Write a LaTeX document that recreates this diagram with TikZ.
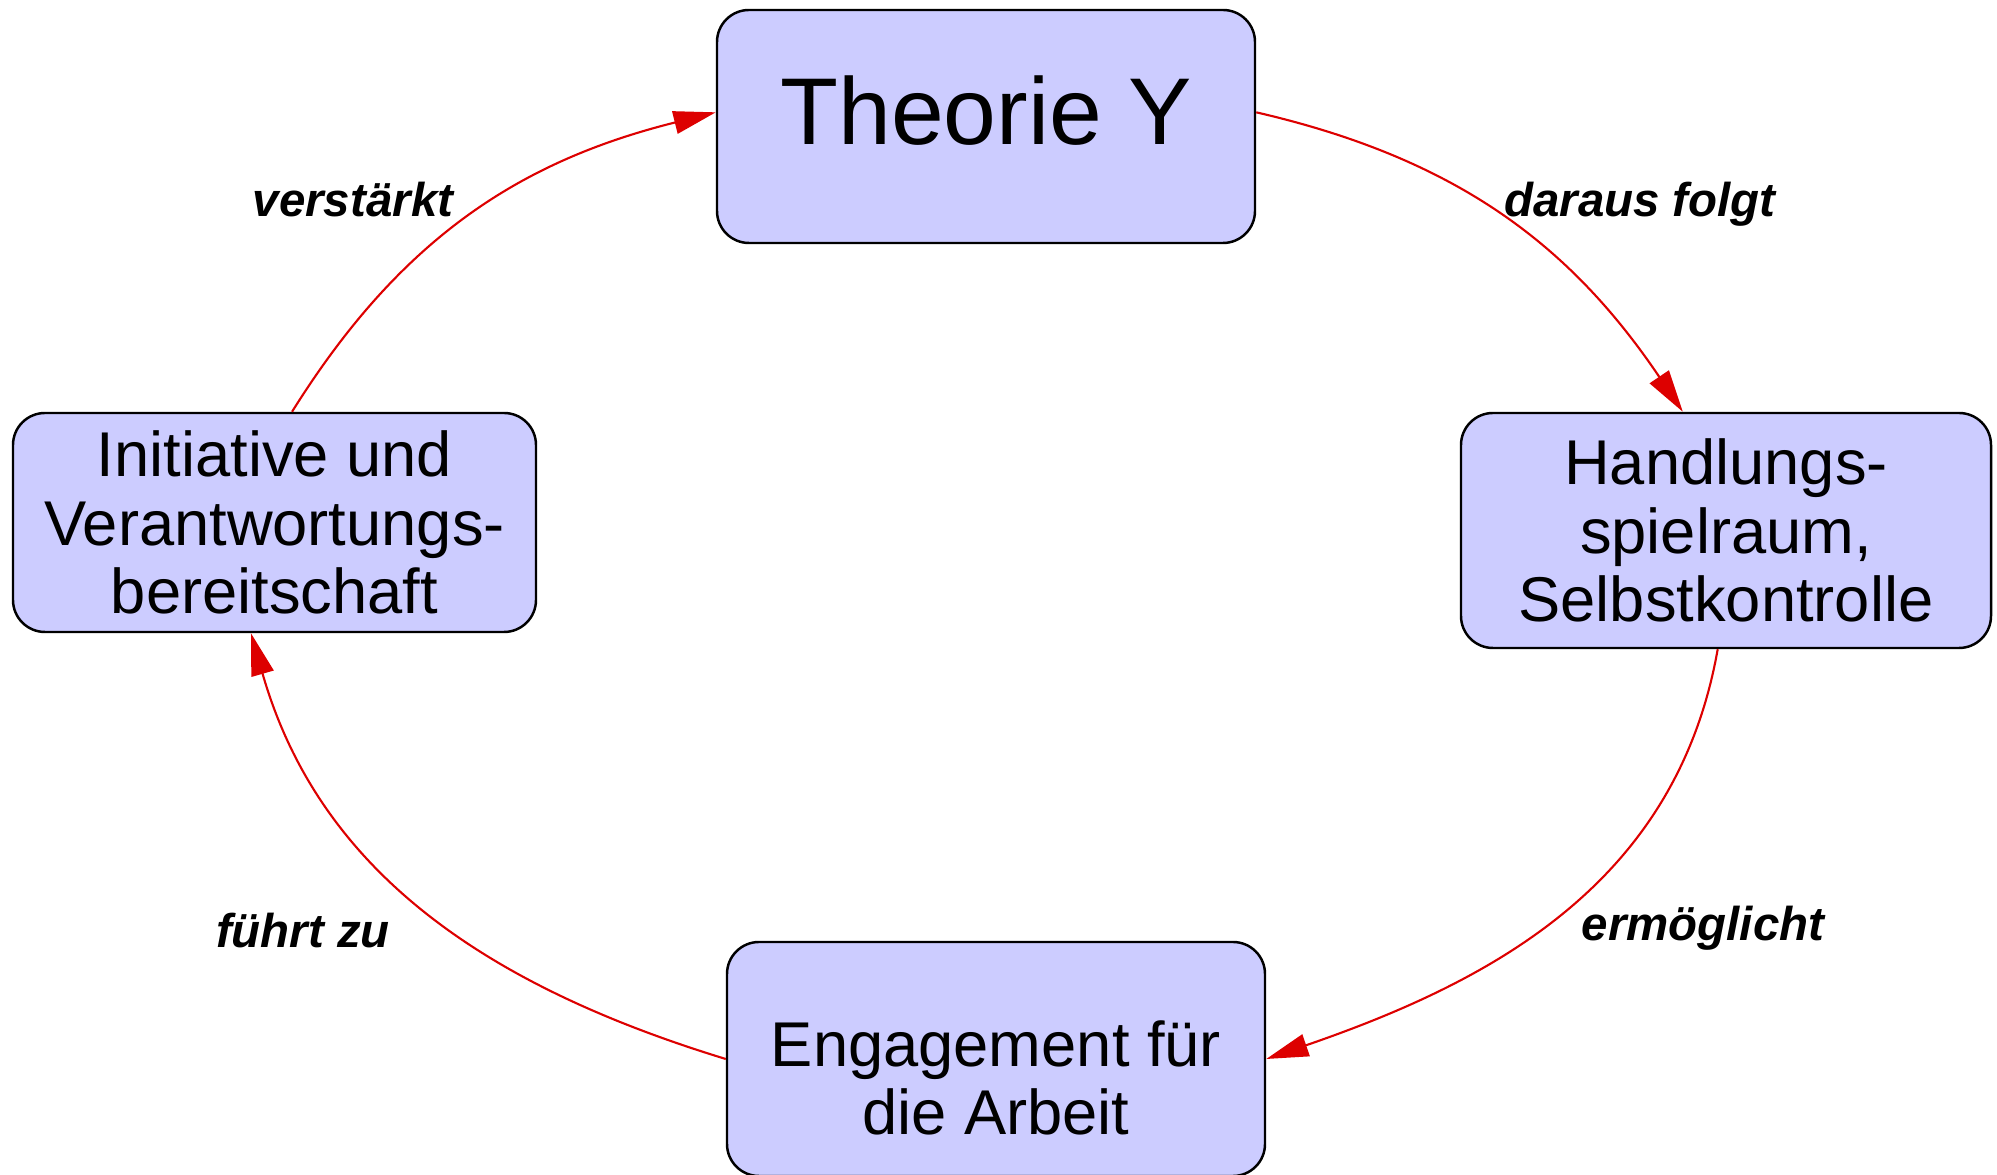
\documentclass[tikz,border=0pt]{standalone}
\usepackage{fontspec}
\setmainfont{Liberation Sans}
\usetikzlibrary{arrows.meta}
\definecolor{kastenblau}{HTML}{CCCCFF}
\definecolor{pfeilrot}{HTML}{DD0000}

\tikzset{
  kasten/.style={draw,fill=kastenblau,line width=0.7pt,rounded corners=0.32cm,
    inner sep=0pt,align=center,font=\fontsize{18}{19.5}\selectfont},
  pfeil/.style={draw=pfeilrot,line width=0.6pt,-{Triangle[length=12pt,width=6.5pt]}},
  marke/.style={anchor=base,font=\fontsize{13.5}{16}\selectfont\bfseries\itshape}
}

\begin{document}
\begin{tikzpicture}
  \useasboundingbox (0,0) rectangle (19.97,11.75);

  \node[kasten,minimum width=5.38cm,text height=1.35cm,text depth=0.98cm,
    font=\fontsize{27}{30}\selectfont] (theo) at (9.86,10.485) {Theorie Y};
  \node[kasten,minimum width=5.30cm,minimum height=2.35cm] (hand) at (17.26,6.445)
    {Handlungs-\\spielraum,\\Selbstkontrolle};
  \node[kasten,minimum width=5.38cm,text height=1.93cm,text depth=0.41cm] (eng) at (9.96,1.16)
    {Engagement für\\die Arbeit};
  \node[kasten,minimum width=5.23cm,minimum height=2.19cm] (ini) at (2.745,6.525)
    {Initiative und\\Verantwortungs-\\bereitschaft};

  \draw[pfeil] (theo.3)  to[out=-13,in=124] (hand.110);
  \draw[pfeil] (hand.-94) to[out=-100,in=19] (eng.east);
  \draw[pfeil] (eng.west) to[out=163,in=-74] (ini.-102);
  \draw[pfeil] (ini.81)  to[out=58,in=194]  (theo.177);

  \node[marke] (folgt) at (16.40,9.58) {daraus folgt};
  \node[marke] (moeglich) at (17.03,2.34) {ermöglicht};
  \node[marke] (fuehrt) at (3.03,2.27) {führt zu};
  \node[marke] (staerkt) at (3.53,9.58) {verstärkt};
\end{tikzpicture}
\end{document}
